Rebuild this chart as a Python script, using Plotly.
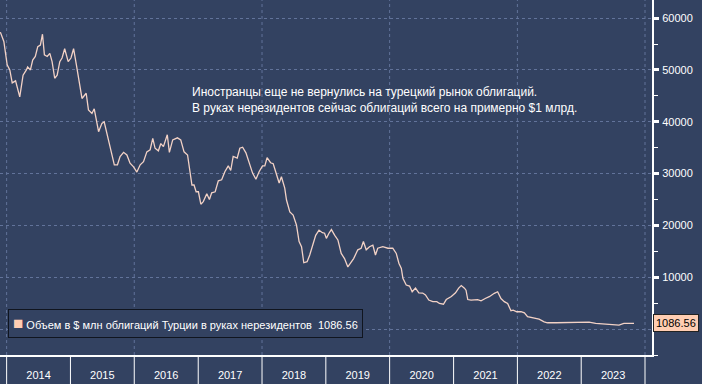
import plotly.graph_objects as go

# ---- data ----
dates = [
    "2013-11-26", "2013-12-16", "2014-01-04", "2014-01-19", "2014-02-02", "2014-02-21", "2014-03-17",
    "2014-04-05", "2014-04-24", "2014-05-01", "2014-05-17", "2014-05-30", "2014-06-14", "2014-06-28",
    "2014-07-13", "2014-07-25", "2014-08-05", "2014-08-21", "2014-09-05", "2014-09-18", "2014-10-03",
    "2014-10-17", "2014-11-01", "2014-11-14", "2014-11-29", "2014-12-19", "2015-01-04", "2015-01-19",
    "2015-02-04", "2015-02-17", "2015-03-08", "2015-04-01", "2015-04-14", "2015-05-04", "2015-05-17",
    "2015-06-11", "2015-06-30", "2015-07-13", "2015-07-28", "2015-08-01", "2015-08-21", "2015-09-09",
    "2015-09-27", "2015-10-12", "2015-11-01", "2015-11-20", "2015-12-08", "2015-12-28", "2016-01-16",
    "2016-02-04", "2016-02-23", "2016-03-13", "2016-04-01", "2016-04-16", "2016-04-29", "2016-05-18",
    "2016-06-01", "2016-06-16", "2016-07-08", "2016-07-20", "2016-08-08", "2016-09-04", "2016-09-23",
    "2016-10-12", "2016-11-01", "2016-11-16", "2016-11-26", "2016-12-08", "2016-12-20", "2017-01-02",
    "2017-01-16", "2017-01-30", "2017-02-19", "2017-03-06", "2017-03-19", "2017-04-08", "2017-04-26",
    "2017-05-15", "2017-06-03", "2017-06-22", "2017-07-06", "2017-07-20", "2017-08-12", "2017-08-27",
    "2017-09-12", "2017-10-01", "2017-10-20", "2017-11-08", "2017-11-27", "2017-12-16", "2018-01-04",
    "2018-01-17", "2018-01-30", "2018-02-19", "2018-03-06", "2018-03-21", "2018-04-09", "2018-04-22",
    "2018-05-11", "2018-05-21", "2018-06-09", "2018-06-28", "2018-07-17", "2018-08-01", "2018-08-15",
    "2018-08-28", "2018-09-16", "2018-10-01", "2018-10-20", "2018-11-04", "2018-11-23", "2018-12-12",
    "2018-12-25", "2019-01-04", "2019-01-19", "2019-02-02", "2019-02-21", "2019-03-11", "2019-03-30",
    "2019-04-18", "2019-05-07", "2019-05-21", "2019-06-09", "2019-07-03", "2019-07-22", "2019-08-04",
    "2019-08-20", "2019-09-08", "2019-09-27", "2019-10-12", "2019-10-25", "2019-11-23", "2019-12-22",
    "2020-01-19", "2020-02-08", "2020-02-23", "2020-03-08", "2020-03-17", "2020-04-05", "2020-04-24",
    "2020-05-09", "2020-05-28", "2020-06-16", "2020-07-08", "2020-07-24", "2020-08-12", "2020-09-04",
    "2020-09-27", "2020-10-12", "2020-11-04", "2020-11-20", "2020-12-19", "2021-01-12", "2021-01-30",
    "2021-02-14", "2021-03-04", "2021-03-13", "2021-03-23", "2021-04-11", "2021-05-18", "2021-06-07",
    "2021-07-01", "2021-07-24", "2021-08-22", "2021-09-10", "2021-09-29", "2021-10-18", "2021-11-06",
    "2021-11-25", "2021-12-08", "2021-12-28", "2022-01-22", "2022-02-10", "2022-02-28", "2022-03-28",
    "2022-05-05", "2022-06-03", "2022-06-22", "2022-08-09", "2022-10-24", "2023-01-27", "2023-02-15",
    "2023-03-25", "2023-05-21", "2023-06-28", "2023-08-05", "2023-09-02", "2023-10-01", "2023-10-30",
]
holdings = [
    57300, 55500, 51000, 50000, 47500, 47900, 44800,
    49000, 50000, 50600, 50000, 51900, 52600, 54500,
    54800, 56900, 52900, 52600, 53200, 51600, 48400,
    49000, 51600, 52300, 54100, 51600, 52300, 54100,
    51000, 48400, 44500, 45500, 42300, 41600, 42500,
    38100, 39700, 40000, 37800, 36800, 33900, 31700,
    31700, 33300, 34100, 33600, 32000, 31300, 30300,
    31700, 32300, 34200, 34600, 36800, 34900, 34400,
    35800, 35200, 37500, 34100, 36500, 36900, 36500,
    34200, 33600, 30100, 27800, 27800, 26500, 26500,
    24100, 24600, 26100, 25000, 26300, 26500, 28600,
    28800, 30400, 31500, 30600, 33300, 33000, 34900,
    35100, 34000, 32000, 30100, 28900, 30400, 31500,
    31500, 33100, 32100, 31900, 30100, 28200, 29400,
    27200, 24900, 22600, 22000, 20100, 16900, 15900,
    12800, 13000, 14300, 16200, 18100, 19100, 18600,
    18500, 17500, 18500, 19200, 18100, 17200, 14600,
    13600, 12000, 12700, 13600, 15300, 15600, 16900,
    15300, 15900, 16200, 14300, 15600, 15900, 15600,
    15600, 14600, 12700, 11700, 9800, 8500, 8300,
    7200, 7900, 7000, 6950, 6600, 5600, 5300,
    5300, 4950, 4800, 5700, 6300, 7000, 7900,
    8400, 7900, 7500, 5700, 5600, 5700, 5450,
    5900, 6250, 6900, 7200, 5900, 5300, 4950,
    3550, 3650, 3350, 3350, 3150, 2400, 2200,
    1900, 1400, 1220, 1220, 1220, 1220, 1350,
    1100, 970, 830, 770, 1100, 1020, 1086.56,
]
year_bounds = ["%d-01-01" % y for y in range(2014, 2025)]
grid_years = ["%d-01-01" % y for y in range(2014, 2025, 2)]
y_ticks = [0, 10000, 20000, 30000, 40000, 50000, 60000]
series_name = "Объем в $ млн облигаций Турции в руках нерезидентов"
note = ("Иностранцы еще не вернулись на турецкий рынок облигаций.<br>"
        "В руках нерезидентов сейчас облигаций всего на примерно $1 млрд.")

BG = "#334261"
GRID = "#62739a"
LINE = "#f3d2c6"
PEACH = "#ffcdb2"
FONT = "Liberation Sans, Arial, sans-serif"

PLOT_H = 355  # plot-area height in px (for paper-fraction placement)
last_val = holdings[-1]

fig = go.Figure()
fig.add_trace(go.Scatter(x=dates, y=holdings, mode="lines",
                         line=dict(color=LINE, width=1.3),
                         name=series_name, showlegend=False, hoverinfo="skip"))

# dashed vertical grid every two years
for d in grid_years:
    fig.add_shape(type="line", xref="x", yref="paper", x0=d, x1=d, y0=0, y1=1,
                  line=dict(color=GRID, width=1, dash="dot"), layer="below")
# year separators below the axis
for d in year_bounds:
    fig.add_shape(type="line", xref="x", yref="paper", x0=d, x1=d, y0=0, y1=-29 / PLOT_H,
                  line=dict(color="white", width=1), layer="above")

fig.update_layout(
    width=702, height=384,
    margin=dict(l=0, r=50, t=0, b=29, autoexpand=False),
    paper_bgcolor=BG, plot_bgcolor=BG,
    font=dict(family=FONT, color="white", size=11),
    xaxis=dict(
        type="date",
        range=["2013-11-24", "2024-02-10"],
        tickmode="linear", tick0="2014-01-01", dtick="M12",
        ticklabelmode="period", tickformat="%Y",
        ticks="", showgrid=False,
        ticklabelstandoff=9,
        automargin=False,
        showline=True, linecolor="white", linewidth=2,
        tickfont=dict(size=11, color="white"),
        zeroline=False,
    ),
    yaxis=dict(
        side="right",
        range=[-5000, 63500],
        tickmode="array", tickvals=y_ticks,
        ticktext=["" if v == 0 else str(v) for v in y_ticks],
        ticks="outside", ticklen=5, tickwidth=3, tickcolor="white",
        ticklabelstandoff=1,
        automargin=False,
        showgrid=True, gridcolor=GRID, griddash="dot", gridwidth=1,
        showline=True, linecolor="white", linewidth=2,
        zeroline=False,
        tickfont=dict(size=11, color="white"),
        minor=dict(dtick=5000, tick0=5000, ticks="outside", ticklen=4,
                   tickcolor="white", tickwidth=1, showgrid=False),
    ),
    showlegend=False,
)

fig.add_annotation(xref="paper", yref="paper", x=190 / 652, y=(PLOT_H - 83) / PLOT_H,
                   xanchor="left", yanchor="top", align="left", showarrow=False,
                   text=note, font=dict(size=12, color="white", family=FONT))

fig.add_annotation(xref="paper", yref="paper", x=8 / 652, y=(PLOT_H - 323) / PLOT_H,
                   xanchor="left", yanchor="middle", align="left", showarrow=False,
                   text=("<span style='color:%s;font-size:17px'>■</span>&nbsp;%s  %s"
                         % (PEACH, series_name, f"{last_val:.2f}")),
                   font=dict(size=11, color="white", family=FONT),
                   bgcolor=BG, bordercolor="#10151f", borderwidth=1, borderpad=4)

fig.add_annotation(xref="paper", yref="y", x=1.0, y=last_val,
                   xanchor="left", yanchor="middle", showarrow=False,
                   xshift=1,
                   text=f"{last_val:.2f}",
                   font=dict(size=11, color="black", family=FONT),
                   bgcolor=PEACH, bordercolor="#222222", borderwidth=1, borderpad=2)

fig.write_html("out.html",
               config={"displayModeBar": False},
               post_script="document.body.style.margin='0';document.body.style.background='%s';" % BG)
